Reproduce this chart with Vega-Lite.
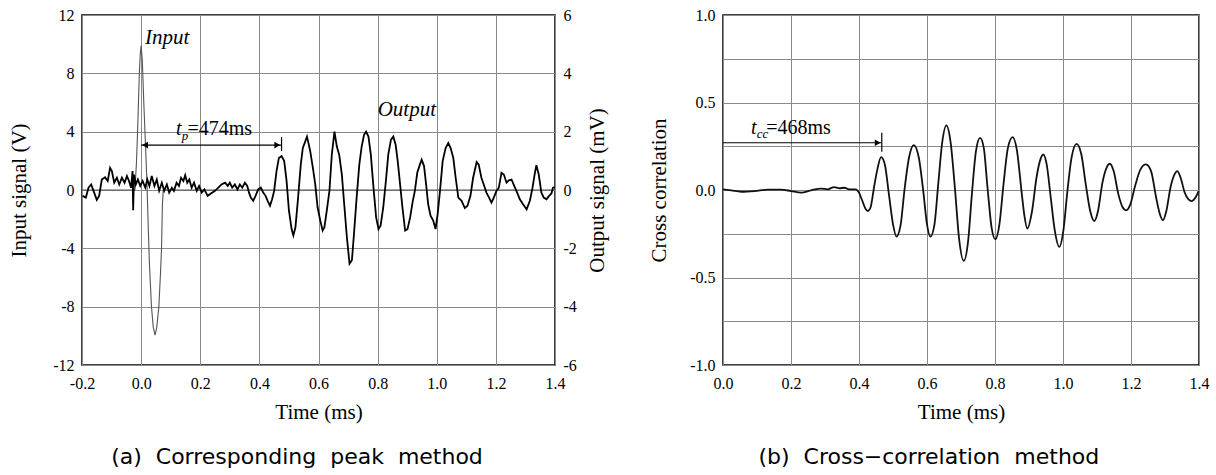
{
  "$schema": "https://vega.github.io/schema/vega-lite/v6.json",
  "background": "white",
  "padding": {"left": 7, "top": 6, "right": 5, "bottom": 5},
  "spacing": 38,
  "config": {
    "font": "Liberation Serif",
    "view": {"stroke": "#000", "strokeWidth": 1.5},
    "axis": {
      "labelFont": "Liberation Serif", "titleFont": "Liberation Serif",
      "labelFontSize": 16, "titleFontSize": 21, "titleFontWeight": "normal",
      "labelColor": "#000", "titleColor": "#000",
      "ticks": false, "domain": false,
      "gridColor": "#8a8a8a", "gridWidth": 1, "gridOpacity": 1,
      "labelPadding": 8, "labelFlush": false, "labelOverlap": false
    },
    "axisX": {"labelPadding": 10, "titlePadding": 10},
    "title": {"font": "DejaVu Sans", "fontSize": 22, "fontWeight": "normal", "color": "#000"}
  },
  "datasets": {
    "input": [
      {"t": -0.2, "v": 0}, {"t": -0.021, "v": 0}, {"t": -0.016, "v": 1.8}, {"t": -0.012, "v": 4},
      {"t": -0.006, "v": 8}, {"t": -0.003, "v": 9.3}, {"t": 0, "v": 9.9}, {"t": 0.004, "v": 8.9},
      {"t": 0.009, "v": 6}, {"t": 0.015, "v": 3}, {"t": 0.02, "v": 0.3}, {"t": 0.024, "v": -2.5},
      {"t": 0.028, "v": -5}, {"t": 0.035, "v": -8}, {"t": 0.041, "v": -9.4}, {"t": 0.047, "v": -9.95},
      {"t": 0.053, "v": -9.4}, {"t": 0.06, "v": -8}, {"t": 0.066, "v": -5.5}, {"t": 0.069, "v": -4},
      {"t": 0.072, "v": -1}, {"t": 0.075, "v": 0}, {"t": 1.4, "v": 0}
    ],
    "output": [
      {"t": -0.198, "mv": -0.2}, {"t": -0.187, "mv": -0.26}, {"t": -0.178, "mv": 0.08}, {"t": -0.169, "mv": 0.19},
      {"t": -0.161, "mv": -0.03}, {"t": -0.150, "mv": -0.34}, {"t": -0.142, "mv": -0.2}, {"t": -0.133, "mv": 0.36},
      {"t": -0.122, "mv": 0.44}, {"t": -0.113, "mv": 0.31}, {"t": -0.105, "mv": 0.76}, {"t": -0.099, "mv": 0.65},
      {"t": -0.091, "mv": 0.25}, {"t": -0.082, "mv": 0.42}, {"t": -0.074, "mv": 0.19}, {"t": -0.065, "mv": 0.42},
      {"t": -0.056, "mv": 0.25}, {"t": -0.048, "mv": 0.48}, {"t": -0.041, "mv": 0.31}, {"t": -0.034, "mv": 0.08},
      {"t": -0.029, "mv": 0.65}, {"t": -0.027, "mv": -0.69}, {"t": -0.024, "mv": 0.53}, {"t": -0.018, "mv": 0.19},
      {"t": -0.011, "mv": 0.36}, {"t": -0.003, "mv": 0.14}, {"t": 0.005, "mv": 0.31}, {"t": 0.014, "mv": 0.08},
      {"t": 0.021, "mv": 0.36}, {"t": 0.028, "mv": 0.14}, {"t": 0.036, "mv": 0.48}, {"t": 0.045, "mv": 0.14},
      {"t": 0.053, "mv": 0.36}, {"t": 0.061, "mv": -0.03}, {"t": 0.070, "mv": 0.25}, {"t": 0.078, "mv": -0.03},
      {"t": 0.087, "mv": 0.19}, {"t": 0.095, "mv": -0.09}, {"t": 0.104, "mv": 0.08}, {"t": 0.111, "mv": -0.03},
      {"t": 0.120, "mv": 0.25}, {"t": 0.128, "mv": 0.14}, {"t": 0.135, "mv": 0.42}, {"t": 0.143, "mv": 0.31},
      {"t": 0.149, "mv": 0.51}, {"t": 0.156, "mv": 0.25}, {"t": 0.163, "mv": 0.36}, {"t": 0.171, "mv": 0.08},
      {"t": 0.179, "mv": 0.25}, {"t": 0.188, "mv": -0.03}, {"t": 0.196, "mv": 0.14}, {"t": 0.205, "mv": -0.09},
      {"t": 0.214, "mv": 0.02}, {"t": 0.225, "mv": -0.2}, {"t": 0.236, "mv": -0.12}, {"t": 0.250, "mv": -0.03},
      {"t": 0.261, "mv": 0.08}, {"t": 0.272, "mv": 0.19}, {"t": 0.284, "mv": 0.25}, {"t": 0.293, "mv": 0.14},
      {"t": 0.300, "mv": 0.25}, {"t": 0.308, "mv": 0.08}, {"t": 0.317, "mv": 0.19}, {"t": 0.326, "mv": 0.02},
      {"t": 0.334, "mv": 0.19}, {"t": 0.342, "mv": 0.08}, {"t": 0.351, "mv": 0.25}, {"t": 0.359, "mv": 0.14},
      {"t": 0.365, "mv": -0.09}, {"t": 0.371, "mv": -0.26}, {"t": 0.379, "mv": -0.37}, {"t": 0.387, "mv": -0.2},
      {"t": 0.396, "mv": 0.02}, {"t": 0.405, "mv": 0.08}, {"t": 0.413, "mv": -0.09}, {"t": 0.421, "mv": -0.2},
      {"t": 0.428, "mv": -0.37}, {"t": 0.436, "mv": -0.54}, {"t": 0.443, "mv": -0.32}, {"t": 0.450, "mv": -0.03},
      {"t": 0.458, "mv": 0.65}, {"t": 0.466, "mv": 1.10}, {"t": 0.475, "mv": 1.16}, {"t": 0.484, "mv": 0.99},
      {"t": 0.492, "mv": 0.31}, {"t": 0.500, "mv": -0.71}, {"t": 0.509, "mv": -1.34}, {"t": 0.515, "mv": -1.56},
      {"t": 0.522, "mv": -1.28}, {"t": 0.531, "mv": -0.26}, {"t": 0.540, "mv": 0.87}, {"t": 0.547, "mv": 1.44},
      {"t": 0.555, "mv": 1.66}, {"t": 0.561, "mv": 1.83}, {"t": 0.566, "mv": 1.61}, {"t": 0.572, "mv": 1.33},
      {"t": 0.581, "mv": 0.76}, {"t": 0.589, "mv": 0.19}, {"t": 0.597, "mv": -0.60}, {"t": 0.606, "mv": -1.05},
      {"t": 0.614, "mv": -1.39}, {"t": 0.620, "mv": -1.28}, {"t": 0.628, "mv": -0.71}, {"t": 0.637, "mv": -0.03},
      {"t": 0.645, "mv": 1.21}, {"t": 0.654, "mv": 2.00}, {"t": 0.662, "mv": 1.49}, {"t": 0.670, "mv": 1.21},
      {"t": 0.679, "mv": 0.53}, {"t": 0.687, "mv": -0.49}, {"t": 0.696, "mv": -1.62}, {"t": 0.705, "mv": -2.53},
      {"t": 0.713, "mv": -2.41}, {"t": 0.720, "mv": -1.51}, {"t": 0.729, "mv": -0.26}, {"t": 0.738, "mv": 0.87},
      {"t": 0.746, "mv": 1.49}, {"t": 0.754, "mv": 1.89}, {"t": 0.761, "mv": 2.00}, {"t": 0.769, "mv": 1.83},
      {"t": 0.777, "mv": 1.21}, {"t": 0.786, "mv": 0.08}, {"t": 0.795, "mv": -0.94}, {"t": 0.803, "mv": -1.34},
      {"t": 0.810, "mv": -1.22}, {"t": 0.819, "mv": -0.60}, {"t": 0.828, "mv": 0.31}, {"t": 0.836, "mv": 1.21},
      {"t": 0.845, "mv": 1.72}, {"t": 0.853, "mv": 1.83}, {"t": 0.861, "mv": 1.55}, {"t": 0.868, "mv": 0.99},
      {"t": 0.876, "mv": 0.19}, {"t": 0.884, "mv": -0.60}, {"t": 0.893, "mv": -1.39}, {"t": 0.901, "mv": -1.34},
      {"t": 0.910, "mv": -0.94}, {"t": 0.919, "mv": -0.37}, {"t": 0.926, "mv": -0.03}, {"t": 0.934, "mv": 0.59},
      {"t": 0.943, "mv": 0.87}, {"t": 0.949, "mv": 1.04}, {"t": 0.957, "mv": 0.82}, {"t": 0.964, "mv": 0.19},
      {"t": 0.971, "mv": -0.49}, {"t": 0.979, "mv": -0.88}, {"t": 0.988, "mv": -1.05}, {"t": 0.996, "mv": -1.34},
      {"t": 1.003, "mv": -0.83}, {"t": 1.011, "mv": -0.03}, {"t": 1.020, "mv": 0.99}, {"t": 1.030, "mv": 1.44},
      {"t": 1.039, "mv": 1.61}, {"t": 1.047, "mv": 1.44}, {"t": 1.056, "mv": 1.10}, {"t": 1.064, "mv": 0.42},
      {"t": 1.073, "mv": -0.26}, {"t": 1.084, "mv": -0.37}, {"t": 1.095, "mv": -0.62}, {"t": 1.104, "mv": -0.54},
      {"t": 1.114, "mv": -0.20}, {"t": 1.123, "mv": 0.42}, {"t": 1.135, "mv": 0.96}, {"t": 1.142, "mv": 0.87},
      {"t": 1.151, "mv": 0.42}, {"t": 1.159, "mv": 0.19}, {"t": 1.168, "mv": -0.09}, {"t": 1.177, "mv": -0.26},
      {"t": 1.185, "mv": -0.43}, {"t": 1.193, "mv": -0.26}, {"t": 1.202, "mv": -0.03}, {"t": 1.210, "mv": 0.08},
      {"t": 1.219, "mv": 0.59}, {"t": 1.227, "mv": 0.53}, {"t": 1.236, "mv": 0.25}, {"t": 1.244, "mv": 0.33},
      {"t": 1.253, "mv": 0.36}, {"t": 1.262, "mv": 0.14}, {"t": 1.272, "mv": -0.09}, {"t": 1.281, "mv": -0.32},
      {"t": 1.292, "mv": -0.49}, {"t": 1.304, "mv": -0.66}, {"t": 1.315, "mv": -0.37}, {"t": 1.324, "mv": 0.08},
      {"t": 1.332, "mv": 0.59}, {"t": 1.337, "mv": 0.85}, {"t": 1.345, "mv": 0.53}, {"t": 1.354, "mv": -0.09},
      {"t": 1.362, "mv": -0.26}, {"t": 1.371, "mv": -0.32}, {"t": 1.380, "mv": -0.20}, {"t": 1.388, "mv": -0.12},
      {"t": 1.393, "mv": 0.08}, {"t": 1.399, "mv": 0.10}
    ],
    "cc": [
      {"t": 0.0, "r": 0.004}, {"t": 0.024, "r": -0.002}, {"t": 0.054, "r": -0.01}, {"t": 0.093, "r": -0.006},
      {"t": 0.132, "r": 0.002}, {"t": 0.171, "r": 0.002}, {"t": 0.2, "r": -0.006}, {"t": 0.23, "r": -0.015},
      {"t": 0.259, "r": -0.002}, {"t": 0.288, "r": 0.008}, {"t": 0.308, "r": 0.004}, {"t": 0.327, "r": 0.017},
      {"t": 0.342, "r": 0.01}, {"t": 0.357, "r": 0.013}, {"t": 0.371, "r": 0.004}, {"t": 0.39, "r": 0.004},
      {"t": 0.40, "r": -0.015}, {"t": 0.410, "r": -0.063}, {"t": 0.420, "r": -0.11}, {"t": 0.426, "r": -0.12},
      {"t": 0.434, "r": -0.10}, {"t": 0.444, "r": 0.013}, {"t": 0.454, "r": 0.118}, {"t": 0.465, "r": 0.188},
      {"t": 0.476, "r": 0.146}, {"t": 0.488, "r": -0.025}, {"t": 0.500, "r": -0.196}, {"t": 0.510, "r": -0.266},
      {"t": 0.522, "r": -0.205}, {"t": 0.534, "r": 0.004}, {"t": 0.547, "r": 0.184}, {"t": 0.561, "r": 0.257},
      {"t": 0.576, "r": 0.184}, {"t": 0.589, "r": -0.006}, {"t": 0.600, "r": -0.196}, {"t": 0.610, "r": -0.266},
      {"t": 0.622, "r": -0.196}, {"t": 0.633, "r": 0.032}, {"t": 0.644, "r": 0.26}, {"t": 0.657, "r": 0.369},
      {"t": 0.669, "r": 0.279}, {"t": 0.682, "r": 0.013}, {"t": 0.694, "r": -0.272}, {"t": 0.708, "r": -0.405},
      {"t": 0.721, "r": -0.291}, {"t": 0.732, "r": -0.025}, {"t": 0.744, "r": 0.222}, {"t": 0.756, "r": 0.298},
      {"t": 0.767, "r": 0.241}, {"t": 0.778, "r": 0.013}, {"t": 0.790, "r": -0.215}, {"t": 0.801, "r": -0.281},
      {"t": 0.813, "r": -0.196}, {"t": 0.825, "r": 0.032}, {"t": 0.838, "r": 0.241}, {"t": 0.852, "r": 0.302},
      {"t": 0.864, "r": 0.232}, {"t": 0.879, "r": -0.025}, {"t": 0.886, "r": -0.14}, {"t": 0.895, "r": -0.22},
      {"t": 0.909, "r": -0.12}, {"t": 0.922, "r": 0.07}, {"t": 0.932, "r": 0.165}, {"t": 0.942, "r": 0.203},
      {"t": 0.952, "r": 0.146}, {"t": 0.964, "r": -0.044}, {"t": 0.976, "r": -0.234}, {"t": 0.989, "r": -0.325},
      {"t": 1.001, "r": -0.234}, {"t": 1.013, "r": -0.006}, {"t": 1.025, "r": 0.184}, {"t": 1.040, "r": 0.264},
      {"t": 1.054, "r": 0.203}, {"t": 1.067, "r": 0.032}, {"t": 1.080, "r": -0.12}, {"t": 1.092, "r": -0.177},
      {"t": 1.103, "r": -0.12}, {"t": 1.116, "r": 0.042}, {"t": 1.128, "r": 0.127}, {"t": 1.138, "r": 0.150},
      {"t": 1.149, "r": 0.108}, {"t": 1.163, "r": -0.025}, {"t": 1.175, "r": -0.097}, {"t": 1.186, "r": -0.116},
      {"t": 1.198, "r": -0.082}, {"t": 1.212, "r": 0.023}, {"t": 1.228, "r": 0.118}, {"t": 1.244, "r": 0.146},
      {"t": 1.259, "r": 0.108}, {"t": 1.274, "r": -0.044}, {"t": 1.285, "r": -0.139}, {"t": 1.294, "r": -0.173},
      {"t": 1.304, "r": -0.12}, {"t": 1.316, "r": 0.013}, {"t": 1.328, "r": 0.089}, {"t": 1.336, "r": 0.108},
      {"t": 1.346, "r": 0.070}, {"t": 1.358, "r": -0.015}, {"t": 1.369, "r": -0.053}, {"t": 1.379, "r": -0.063},
      {"t": 1.389, "r": -0.044}, {"t": 1.399, "r": -0.006}
    ]
  },
  "hconcat": [
    {
      "width": 473,
      "height": 350,
      "title": {"text": "(a)\u00a0 Corresponding\u00a0 peak\u00a0 method", "orient": "bottom", "frame": "bounds", "anchor": "middle", "offset": 25, "dx": -11},
      "resolve": {"scale": {"y": "independent"}, "axis": {"y": "independent"}},
      "layer": [
        {
          "layer": [
            {
              "data": {"name": "input"},
              "mark": {"type": "line", "color": "#555", "strokeWidth": 1.1},
              "encoding": {
                "x": {"field": "t", "type": "quantitative", "scale": {"domain": [-0.2, 1.4], "nice": false, "zero": false},
                  "axis": {"title": "Time (ms)", "values": [-0.2, 0, 0.2, 0.4, 0.6, 0.8, 1.0, 1.2, 1.4], "grid": true,
                    "labelExpr": "replace(format(datum.value, '.1f'), '\u2212', '-')"}},
                "y": {"field": "v", "type": "quantitative", "scale": {"domain": [-12, 12], "nice": false},
                  "axis": {"title": "Input signal (V)", "orient": "left", "values": [-12, -8, -4, 0, 4, 8, 12], "grid": true, "titlePadding": 23,
                    "labelExpr": "replace(format(datum.value, 'd'), '\u2212', '-')"}}
              }
            },
            {
              "data": {"values": [{"t": 0.013, "v": 9.99, "label": "Input"}, {"t": 0.8, "v": 5.07, "label": "Output"}]},
              "mark": {"type": "text", "align": "left", "baseline": "alphabetic", "font": "Liberation Serif", "fontStyle": "italic", "fontSize": 21, "color": "#000"},
              "encoding": {
                "x": {"field": "t", "type": "quantitative"},
                "y": {"field": "v", "type": "quantitative"},
                "text": {"field": "label"}
              }
            },
            {
              "data": {"values": [{"t": 0.118, "v": 3.77, "label": "t"}]},
              "mark": {"type": "text", "align": "left", "baseline": "alphabetic", "font": "Liberation Serif", "fontStyle": "italic", "fontSize": 20, "color": "#000"},
              "encoding": {
                "x": {"field": "t", "type": "quantitative"},
                "y": {"field": "v", "type": "quantitative"},
                "text": {"field": "label"}
              }
            },
            {
              "data": {"values": [{"t": 0.157, "v": 3.77, "label": "=474ms"}]},
              "mark": {"type": "text", "align": "left", "baseline": "alphabetic", "font": "Liberation Serif", "fontSize": 20, "color": "#000"},
              "encoding": {
                "x": {"field": "t", "type": "quantitative"},
                "y": {"field": "v", "type": "quantitative"},
                "text": {"field": "label"}
              }
            },
            {
              "data": {"values": [{"t": 0.137, "v": 3.45, "label": "p"}]},
              "mark": {"type": "text", "align": "left", "baseline": "alphabetic", "font": "Liberation Serif", "fontStyle": "italic", "fontSize": 13, "color": "#000"},
              "encoding": {
                "x": {"field": "t", "type": "quantitative"},
                "y": {"field": "v", "type": "quantitative"},
                "text": {"field": "label"}
              }
            },
            {
              "data": {"values": [{"t": 0.0, "t2": 0.474, "v": 3.08, "v2": 3.08}, {"t": 0.475, "t2": 0.475, "v": 2.67, "v2": 3.63}]},
              "mark": {"type": "rule", "color": "#000", "strokeWidth": 1.2},
              "encoding": {
                "x": {"field": "t", "type": "quantitative"},
                "x2": {"field": "t2"},
                "y": {"field": "v", "type": "quantitative"},
                "y2": {"field": "v2"}
              }
            },
            {
              "data": {"values": [{"t": 0.0135, "v": 3.08, "dir": "triangle-left"}, {"t": 0.4605, "v": 3.08, "dir": "triangle-right"}]},
              "mark": {"type": "point", "filled": true, "color": "#000", "size": 45, "opacity": 1},
              "encoding": {
                "x": {"field": "t", "type": "quantitative"},
                "y": {"field": "v", "type": "quantitative"},
                "shape": {"field": "dir", "type": "nominal", "scale": null, "legend": null}
              }
            }
          ]
        },
        {
          "data": {"name": "output"},
          "mark": {"type": "line", "color": "#000", "strokeWidth": 1.8},
          "encoding": {
            "x": {"field": "t", "type": "quantitative"},
            "y": {"field": "mv", "type": "quantitative", "scale": {"domain": [-6, 6], "nice": false},
              "axis": {"title": "Output signal (mV)", "orient": "right", "values": [-6, -4, -2, 0, 2, 4, 6], "grid": false, "titleAngle": 270, "titleBaseline": "top", "titlePadding": 10,
                "labelExpr": "replace(format(datum.value, 'd'), '\u2212', '-')"}}
          }
        }
      ]
    },
    {
      "width": 476,
      "height": 350,
      "title": {"text": "(b)\u00a0 Cross\u2212correlation\u00a0 method", "orient": "bottom", "frame": "bounds", "anchor": "middle", "offset": 25},
      "layer": [
        {
          "data": {"name": "cc"},
          "mark": {"type": "line", "color": "#111", "strokeWidth": 1.8, "interpolate": "monotone"},
          "encoding": {
            "x": {"field": "t", "type": "quantitative", "scale": {"domain": [0, 1.4], "nice": false, "zero": false},
              "axis": {"title": "Time (ms)", "values": [0, 0.2, 0.4, 0.6, 0.8, 1.0, 1.2, 1.4], "grid": true,
                "labelExpr": "replace(format(datum.value, '.1f'), '\u2212', '-')"}},
            "y": {"field": "r", "type": "quantitative", "scale": {"domain": [-1, 1], "nice": false},
              "axis": {"title": "Cross correlation", "values": [-1, -0.75, -0.5, -0.25, 0, 0.25, 0.5, 0.75, 1], "grid": true, "titlePadding": 20,
                "labelExpr": "abs(datum.value * 2 - round(datum.value * 2)) < 0.001 ? replace(format(datum.value, '.1f'), '\u2212', '-') : ''"}}
          }
        },
        {
          "data": {"values": [{"t": 0.082, "v": 0.32, "label": "t"}]},
          "mark": {"type": "text", "align": "left", "baseline": "alphabetic", "font": "Liberation Serif", "fontStyle": "italic", "fontSize": 20, "color": "#000"},
          "encoding": {
            "x": {"field": "t", "type": "quantitative"},
            "y": {"field": "v", "type": "quantitative"},
            "text": {"field": "label"}
          }
        },
        {
          "data": {"values": [{"t": 0.127, "v": 0.32, "label": "=468ms"}]},
          "mark": {"type": "text", "align": "left", "baseline": "alphabetic", "font": "Liberation Serif", "fontSize": 20, "color": "#000"},
          "encoding": {
            "x": {"field": "t", "type": "quantitative"},
            "y": {"field": "v", "type": "quantitative"},
            "text": {"field": "label"}
          }
        },
        {
          "data": {"values": [{"t": 0.0995, "v": 0.295, "label": "cc"}]},
          "mark": {"type": "text", "align": "left", "baseline": "alphabetic", "font": "Liberation Serif", "fontStyle": "italic", "fontSize": 13, "color": "#000"},
          "encoding": {
            "x": {"field": "t", "type": "quantitative"},
            "y": {"field": "v", "type": "quantitative"},
            "text": {"field": "label"}
          }
        },
        {
          "data": {"values": [{"t": 0.0, "t2": 0.466, "v": 0.27, "v2": 0.27}, {"t": 0.467, "t2": 0.467, "v": 0.219, "v2": 0.327}]},
          "mark": {"type": "rule", "color": "#000", "strokeWidth": 1.2},
          "encoding": {
            "x": {"field": "t", "type": "quantitative"},
            "x2": {"field": "t2"},
            "y": {"field": "v", "type": "quantitative"},
            "y2": {"field": "v2"}
          }
        },
        {
          "data": {"values": [{"t": 0.455, "v": 0.27, "dir": "triangle-right"}]},
          "mark": {"type": "point", "filled": true, "color": "#000", "size": 45, "opacity": 1},
          "encoding": {
            "x": {"field": "t", "type": "quantitative"},
            "y": {"field": "v", "type": "quantitative"},
            "shape": {"field": "dir", "type": "nominal", "scale": null, "legend": null}
          }
        }
      ]
    }
  ]
}
